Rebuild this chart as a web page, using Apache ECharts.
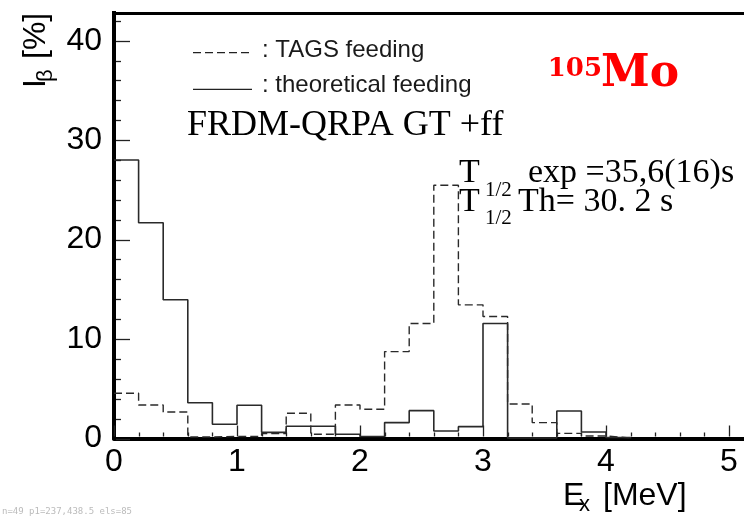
<!DOCTYPE html>
<html><head><meta charset="utf-8">
<script src="https://cdn.jsdelivr.net/npm/echarts@6/dist/echarts.min.js"></script>
<style>html,body{margin:0;padding:0;background:#fff}#c{width:744px;height:519px}#dbg{position:absolute;left:2px;top:506px;font:9px monospace;color:#bbb;white-space:nowrap}</style>
</head><body><div id="c"></div><div id="dbg"></div>
<script>
// Bin edges (MeV), 0.2 MeV bins
const binEdges = [0, 0.2, 0.4, 0.6, 0.8, 1.0, 1.2, 1.4, 1.6, 1.8, 2.0, 2.2, 2.4, 2.6, 2.8, 3.0, 3.2, 3.4, 3.6, 3.8, 4.0, 4.2];
// TAGS feeding (dashed), % per bin
const tagsFeeding = [4.55, 3.37, 2.67, 0.15, 0.2, 0.2, 0.5, 2.54, 0.42, 3.37, 2.94, 8.74, 11.56, 25.46, 13.44, 12.27, 3.47, 1.6, 0.52, 0.25, 0.05];
// theoretical feeding (solid), % per bin
const theoFeeding = [28.0, 21.7, 13.95, 3.6, 1.43, 3.34, 0.62, 1.23, 1.23, 0.42, 0.2, 1.6, 2.8, 0.76, 1.19, 11.56, 0.05, 0.05, 2.77, 0.65, 0.1];
const xTickLabels = ['0', '1', '2', '3', '4', '5'];
const yTickLabels = ['0', '10', '20', '30', '40'];
// tick mark positions (axis values)
const xMajorTicks = [0, 1, 2, 3, 4, 5];
const xMinorTicks = [0.2, 0.4, 0.6, 0.8, 1.2, 1.4, 1.6, 1.8, 2.2, 2.4, 2.6, 2.8, 3.2, 3.4, 3.6, 3.8, 4.2, 4.4, 4.6, 4.8, 5.2];
const yMajorTicks = [0, 10, 20, 30, 40];
const yMinorTicks = [2, 4, 6, 8, 12, 14, 16, 18, 22, 24, 26, 28, 32, 34, 36, 38, 42];
const frameTop = 42.8; // upper edge of the plot frame, in %

function histData(vals) {
  const d = vals.map((v, i) => [binEdges[i], v]);
  d.push([binEdges[vals.length], 0]);
  return d;
}

const chart = echarts.init(document.getElementById('c'));
const SANS = '"Liberation Sans", Arial, sans-serif';
const SERIF = '"Liberation Serif", "Times New Roman", serif';
const DSERIF = '"DejaVu Serif", serif';

function txt(x, y, text, font, fill, align) {
  return {type: 'text', x: x, y: y, z: 100,
    style: {text: text, font: font, fill: fill || '#111', align: align || 'left', verticalAlign: 'middle'}};
}
function labelFmt(list) {
  return v => { const s = String(Math.round(v)); return (Math.abs(v - Math.round(v)) < 1e-6 && list.includes(s)) ? s : ''; };
}

const option = {
  animation: false,
  grid: {left: 114, top: -58.75, right: -108, bottom: 80.5, show: false, containLabel: false, outerBoundsMode: 'none'},
  xAxis: {type: 'value', min: 0, max: 6, interval: 1,
    axisLine: {show: true, onZero: false, lineStyle: {color: '#000', width: 4}},
    axisTick: {show: false},
    axisLabel: {show: true, margin: 8, fontSize: 32, fontFamily: SANS, color: '#000', formatter: labelFmt(xTickLabels)},
    splitLine: {show: false}},
  yAxis: {type: 'value', min: 0, max: 50, interval: 10,
    axisLine: {show: true, onZero: false, lineStyle: {color: '#000', width: 4}},
    axisTick: {show: false},
    axisLabel: {show: true, margin: 12, fontSize: 32, fontFamily: SANS, color: '#000', formatter: labelFmt(yTickLabels)},
    splitLine: {show: false}},
  series: [
    {type: 'line', name: 'TAGS feeding', step: 'end', symbol: 'none',
      data: histData(tagsFeeding), lineStyle: {color: '#2a2a2a', width: 1.4, type: [8, 4]}, z: 3,
      markLine: {silent: true, symbol: 'none', label: {show: false}, animation: false,
        lineStyle: {color: '#000', width: 3, type: 'solid'}, data: [{yAxis: frameTop}]}},
    {type: 'line', name: 'theoretical feeding', step: 'end', symbol: 'none',
      data: histData(theoFeeding), lineStyle: {color: '#2a2a2a', width: 1.6, type: 'solid'}, z: 4}
  ]
};
chart.setOption(option);

// Tick marks: positions from the chart's own axis scales
const tickEls = [];
let dbg = '';
function toPx(v, isX) {
  let p = null;
  try { p = chart.convertToPixel({xAxisIndex: 0, yAxisIndex: 0}, isX ? [v, 0] : [0, v]); } catch (e) { dbg += 'E1 '; }
  if (!p || !isFinite(p[0]) || !isFinite(p[1])) {
    try { p = [chart.convertToPixel({xAxisIndex: 0}, isX ? v : 0), chart.convertToPixel({yAxisIndex: 0}, isX ? 0 : v)]; } catch (e) { dbg += 'E2 '; }
  }
  return p;
}
function addTicks(values, len, isX) {
  values.forEach(v => {
    const p = toPx(v, isX);
    if (!p || !isFinite(p[0]) || !isFinite(p[1])) { dbg += 'bad '; return; }
    const x = Math.round(p[0]) + 0.5, y = Math.round(p[1]) + 0.5;
    tickEls.push({type: 'line', z: 100,
      shape: isX ? {x1: x, y1: p[1] - 2, x2: x, y2: p[1] - len} : {x1: p[0] + 2, y1: y, x2: p[0] + len, y2: y},
      style: {stroke: '#222', lineWidth: 1.3}});
  });
}
addTicks(xMajorTicks, 13, true);
addTicks(xMinorTicks, 6, true);
addTicks(yMajorTicks, 16, false);
addTicks(yMinorTicks, 7, false);

const decorEls = [
  {type: 'rect', z: 90, shape: {x: 100, y: 0, width: 40, height: 11}, style: {fill: '#fff'}},
  {type: 'line', z: 100, shape: {x1: 193, y1: 52.7, x2: 252, y2: 52.7}, style: {stroke: '#222', lineWidth: 1.3, lineDash: [8, 4]}},
  {type: 'line', z: 100, shape: {x1: 193, y1: 89.3, x2: 252, y2: 89.3}, style: {stroke: '#222', lineWidth: 1.3}},
  txt(262, 58.3 - 8.4, ': TAGS feeding', '24px ' + SANS, '#1a1a1a'),
  txt(262, 93.3 - 8.4, ': theoretical feeding', '24px ' + SANS, '#1a1a1a'),
  txt(187, 138 - 12.2, 'FRDM-QRPA GT +ff', '36px ' + SERIF, '#000'),
  txt(602, 78 - 9, '105', 'bold 26px ' + DSERIF, '#ff0000', 'right'),
  txt(601, 90 - 15, 'Mo', 'bold 44px ' + DSERIF, '#ff0000'),
  txt(459, 185 - 11.5, 'T', '34px ' + SERIF, '#000'),
  txt(485, 197 - 7, '1/2', '21px ' + SERIF, '#000'),
  txt(528, 185 - 11.5, 'exp =35,6(16)s', '34px ' + SERIF, '#000'),
  txt(459, 213.3 - 11.5, 'T', '34px ' + SERIF, '#000'),
  txt(485, 225.5 - 7, '1/2', '21px ' + SERIF, '#000'),
  txt(518, 213.3 - 11.5, 'Th= 30. 2 s', '34px ' + SERIF, '#000'),
  // x axis title
  txt(563, 507 - 11.2, 'E', '32px ' + SANS, '#000'),
  txt(579, 513 - 7.7, 'x', '22px ' + SANS, '#000'),
  txt(603, 507 - 11.2, '[MeV]', '32px ' + SANS, '#000'),
  // y axis title (rotated)
  {type: 'group', x: 47, y: 88, rotation: Math.PI / 2, z: 100, children: [
    txt(0, -11.2, 'I', '32px ' + SANS, '#000'),
    txt(6, 7 - 7.7, 'β', '22px ' + SANS, '#000'),
    txt(29, -11.2, '[%]', '32px ' + SANS, '#000')
  ]}
];
chart.setOption({graphic: {elements: decorEls.concat(tickEls)}});
const p1 = toPx(1, true);
dbg += 'n=' + tickEls.length + ' p1=' + (p1 ? p1.map(v => Math.round(v * 10) / 10).join(',') : 'null') + ' els=' + chart.getZr().storage.getDisplayList().length;
document.getElementById('dbg').textContent = dbg;
</script>
</body></html>
